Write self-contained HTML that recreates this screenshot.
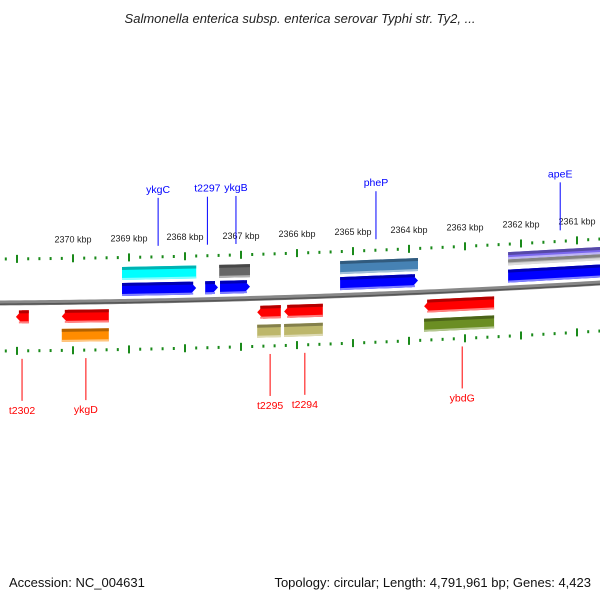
<!DOCTYPE html>
<html><head><meta charset="utf-8"><style>
body{margin:0;background:#fff}
svg{font-family:"Liberation Sans","DejaVu Sans",sans-serif}
</style></head><body>
<svg id="c" width="600" height="600" viewBox="0 0 600 600" xmlns="http://www.w3.org/2000/svg">
<text x="300" y="23" text-anchor="middle" font-size="13" font-style="italic" fill="#222">Salmonella enterica subsp. enterica serovar Typhi str. Ty2, ...</text>
<text x="9" y="587" font-size="13" fill="#111">Accession: NC_004631</text>
<text x="591" y="587" font-size="13" text-anchor="end" fill="#111">Topology: circular; Length: 4,791,961 bp; Genes: 4,423</text>
<g id="g"></g>
</svg>
<script>
// axis ticks (kbp)
const tickKbp=[2370,2369,2368,2367,2366,2365,2364,2363,2362,2361];
// features: start kbp, end kbp, lane, color, strand(1 fwd,-1 rev,0 box)
const featStart=[2369.125,2369.125,2367.39,2367.64,2367.375,2365.23,2365.23,2362.23,2362.23,2362.23, 2371.02,2370.2,2370.2,2366.71,2366.23,2366.71,2366.23,2363.73,2363.73];
const featEnd  =[2367.80,2367.80,2366.84,2367.41,2366.84,2363.84,2363.84,2360.4,2360.4,2360.4, 2370.79,2369.36,2369.36,2366.29,2365.54,2366.29,2365.54,2362.48,2362.48];
const featLane =[-2,-1,-2,-1,-1,-2,-1,-2.3,-1.85,-1,1,1,2,1,1,2,2,1,2];
const featColor=["#00ffff","#0000ff","#666666","#0000ff","#0000ff","#4682b4","#0000ff","#7b68ee","#bbbbbb","#0000ff","#ff0000","#ff0000","#ff8c00","#ff0000","#ff0000","#bdb76b","#bdb76b","#ff0000","#6b8e23"];
const featStrand=[0,1,0,1,1,0,1,0,0,1,-1,-1,0,-1,-1,0,0,-1,0];
// gene labels
const labelText=["ykgC","t2297","ykgB","pheP","apeE","t2302","ykgD","t2295","t2294","ybdG"];
const labelKbp=[2368.48,2367.6,2367.09,2364.59,2361.3,2370.91,2369.77,2366.48,2365.86,2363.05];
const labelSide=[-1,-1,-1,-1,-1,1,1,1,1,1];

const NS="http://www.w3.org/2000/svg",g=document.getElementById('g');
const X=k=>73+(2370-k)*56;
const Y=x=>303-0.00667*x-4.44e-5*x*x;
function mk(t,a){const e=document.createElementNS(NS,t);for(const k in a)e.setAttribute(k,a[k]);g.appendChild(e);return e;}
// backbone
let d="";for(let x=-5;x<=605;x+=5){d+=(x<0?"M":"L")+x+","+Y(x).toFixed(2);}
let bb=mk('path',{d:d,stroke:"#888",'stroke-width':5,fill:"none"});

mk('path',{d:d,stroke:"#555",'stroke-width':1.5,fill:"none",transform:"translate(0,1.2)"});
// ticks
for(let i=-2;i<60;i++){const k=2371.4-i*0.2;const x=X(k);if(x<0||x>600)continue;
 const major=Math.abs(k-Math.round(k))<0.01;const y=Y(x);
 const tl=major?8:3;
 let t1=mk('line',{x1:x,x2:x,y1:y-44-tl/2,y2:y-44+tl/2,stroke:"#1a8a1a",'stroke-width':2});
 
 let t2=mk('line',{x1:x,x2:x,y1:y+48-tl/2,y2:y+48+tl/2,stroke:"#1a8a1a",'stroke-width':2});
 }
tickKbp.forEach(k=>{const x=X(k);const t=mk('text',{x:x,y:Y(x)-60,'text-anchor':'middle','font-size':9,fill:"#222"});t.textContent=k+" kbp";
 });
// features
function shade(c,f){const n=parseInt(c.slice(1),16);let r=n>>16,gg=(n>>8)&255,b=n&255;
 const m=v=>Math.max(0,Math.min(255,Math.round(f<1?v*f:v+(255-v)*(f-1))));return `rgb(${m(r)},${m(gg)},${m(b)})`;}
featStart.forEach((s,i)=>{
 let x1=X(s),x2=X(featEnd[i]);if(x1>x2)[x1,x2]=[x2,x1];
 const lane=featLane[i];const off=lane<0?(lane===-1?-12:(lane*15+2)):(lane===1?14:33);
 const h=lane<-2?7:(lane===-1.85?6:13);const st=featStrand[i];const hd=6;
 const p=(x,dy)=>x.toFixed(1)+","+(Y(x)+off+dy).toFixed(1);
 let pts;
 if(st===1)pts=[p(x1,-h/2),p(x2-hd,-h/2),p(x2,0),p(x2-hd,h/2),p(x1,h/2)];
 else if(st===-1)pts=[p(x1+hd,-h/2),p(x2,-h/2),p(x2,h/2),p(x1+hd,h/2),p(x1,0)];
 else pts=[p(x1,-h/2),p(x2,-h/2),p(x2,h/2),p(x1,h/2)];
 const e=mk('polygon',{points:pts.join(" "),fill:featColor[i]});
 
 mk('polygon',{points:[p(x1+(st===-1?hd/2:0),-h/2),p(x2-(st===1?hd/2:0),-h/2),p(x2-(st===1?hd/2:0),-h/2+3),p(x1+(st===-1?hd/2:0),-h/2+3)].join(" "),fill:shade(featColor[i],0.7)});
 mk('polygon',{points:[p(x1+(st===-1?hd/2:0),h/2-2),p(x2-(st===1?hd/2:0),h/2-2),p(x2-(st===1?hd/2:0),h/2),p(x1+(st===-1?hd/2:0),h/2)].join(" "),fill:shade(featColor[i],1.5)});
});
// labels
labelText.forEach((s,i)=>{const x=X(labelKbp[i]);const y=Y(x);const side=labelSide[i];
 const col=side<0?"#0000ff":"#ff0000";
 const len=side<0?48:42;
 const y1=side<0?y-55:y+56,y2=side<0?y1-len:y1+len;
 mk('line',{x1:x,x2:x,y1:y1,y2:y2,stroke:col,'stroke-width':1});
 const t=mk('text',{x:x,y:side<0?y2-5:y2+13,'text-anchor':'middle','font-size':10.5,fill:col});t.textContent=s;
 });
</script>
</body></html>
